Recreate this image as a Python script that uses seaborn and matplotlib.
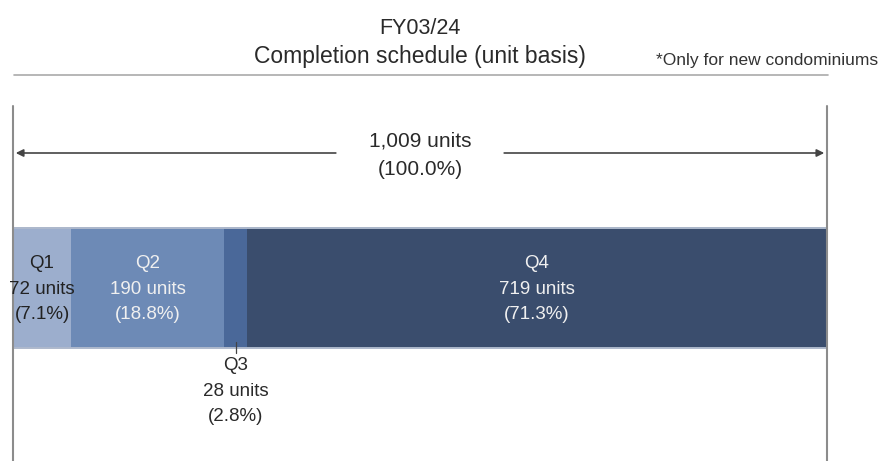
import numpy as np
import pandas as pd
import seaborn as sns
import matplotlib.pyplot as plt

# data
quarters = ['Q1', 'Q2', 'Q3', 'Q4']
units = [72, 190, 28, 719]
shares = [7.1, 18.8, 2.8, 71.3]
colors = ['#9caecd', '#6d8ab6', '#4a6899', '#3a4d6d']
text_colors = ['#222222', '#f0f0f0', '#222222', '#f0f0f0']
total = 1009

sns.set_theme(style='white')
plt.rcParams['font.family'] = ['Liberation Sans', 'DejaVu Sans']

W, H = 896, 461
fig = plt.figure(figsize=(W / 100, H / 100), dpi=100)

# bar axes: spans the bar strip only
ax = fig.add_axes([13 / W, (H - 348) / H, 814 / W, 121 / H])
cum = np.cumsum(units)
df = pd.DataFrame({'q': quarters, 'cum': cum, 'color': colors})
# stacked look: draw cumulative bars from the longest to the shortest
for i in range(len(df) - 1, -1, -1):
    sns.barplot(x=[df['cum'][i]], y=['FY03/24'], orient='h', color=df['color'][i],
                saturation=1, width=1, ax=ax, linewidth=0)
ax.set_xlim(0, total)
ax.set_ylim(0.5, -0.5)
ax.axis('off')

# overlay axes for lines and labels: same x scale, y in pixels from top
ov = fig.add_axes([13 / W, 0, 814 / W, 1])
ov.set_xlim(0, total)
ov.set_ylim(H, 0)
ov.axis('off')
ov.patch.set_alpha(0)

# light edge along top and bottom of the bar
for y in [227.5, 348]:
    ov.plot([0, total], [y, y], color='#aeb9cc', lw=1.4)

starts = np.concatenate([[0], cum[:-1]])
centers = starts + np.array(units) / 2

# segment labels
fs = 13.5
for i, q in enumerate(quarters):
    lines = [q, f'{units[i]} units', f'({shares[i]:.1f}%)']
    if q == 'Q3':
        ov.plot([centers[i], centers[i]], [342, 353], color='#444444', lw=0.9)
        ys = [365, 391, 416]
    else:
        ys = [263, 289, 314]
    for t, y in zip(lines, ys):
        ov.text(centers[i], y, t, ha='center', va='center', fontsize=fs,
                color=text_colors[i] if q != 'Q3' else '#2a2a2a', clip_on=False)

# side rules
for x in [0, total]:
    ov.plot([x, x], [106, H], color='#8c8c8c', lw=1.5, clip_on=False)

# total arrow
arrow_kw = dict(arrowstyle='-|>', color='#444444', lw=1.2, mutation_scale=11)
ov.annotate('', xy=(0, 153), xytext=(total * 0.40, 153), arrowprops=arrow_kw)
ov.annotate('', xy=(total, 153), xytext=(total * 0.60, 153), arrowprops=arrow_kw)
ov.text(total / 2, 141, f'{total:,} units', ha='center', va='center', fontsize=15, color='#2a2a2a')
ov.text(total / 2, 169, '(100.0%)', ha='center', va='center', fontsize=15, color='#2a2a2a')

# title block
ov.text(total / 2, 29, 'FY03/24', ha='center', va='center', fontsize=15.5, color='#2a2a2a')
ov.text(total / 2, 57, 'Completion schedule (unit basis)', ha='center', va='center',
        fontsize=16.5, color='#2a2a2a')
ov.plot([1, total + 1], [75, 75], color='#aaaaaa', lw=1.2, clip_on=False)
ov.text(797, 60, '*Only for new condominiums', ha='left', va='center',
        fontsize=12.5, color='#333333', clip_on=False)

fig.savefig('out.png', dpi=100)
